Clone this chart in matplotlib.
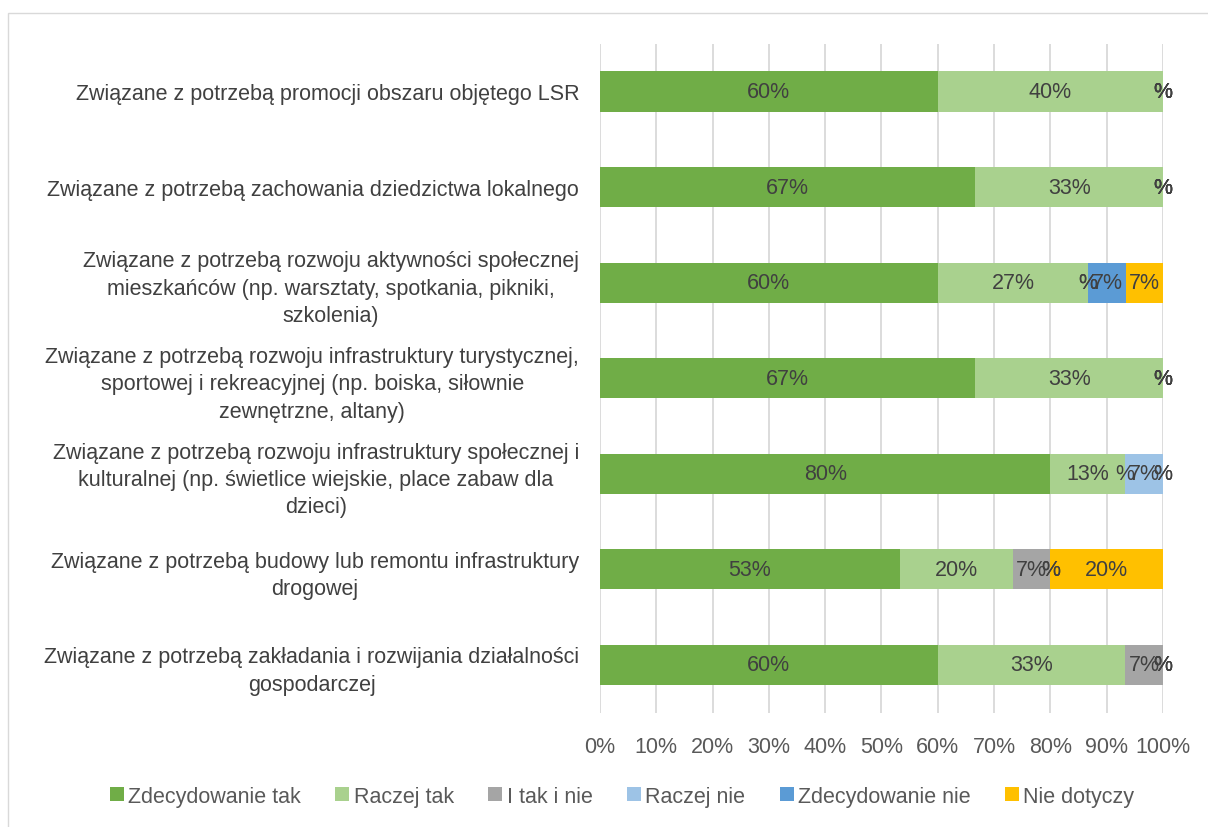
import numpy as np
import matplotlib.pyplot as plt
import matplotlib

matplotlib.rcParams['font.family'] = ['Liberation Sans', 'DejaVu Sans']

categories = [
    'Związane z potrzebą promocji obszaru objętego LSR',
    'Związane z potrzebą zachowania dziedzictwa lokalnego',
    'Związane z potrzebą rozwoju aktywności społecznej\nmieszkańców (np. warsztaty, spotkania, pikniki,\nszkolenia)',
    'Związane z potrzebą rozwoju infrastruktury turystycznej,\nsportowej i rekreacyjnej (np. boiska, siłownie\nzewnętrzne, altany)',
    'Związane z potrzebą rozwoju infrastruktury społecznej i\nkulturalnej (np. świetlice wiejskie, place zabaw dla\ndzieci)',
    'Związane z potrzebą budowy lub remontu infrastruktury\ndrogowej',
    'Związane z potrzebą zakładania i rozwijania działalności\ngospodarczej',
]
series_names = ['Zdecydowanie tak', 'Raczej tak', 'I tak i nie', 'Raczej nie',
                'Zdecydowanie nie', 'Nie dotyczy']
colors = ['#70AD47', '#A9D18E', '#A5A5A5', '#9DC3E6', '#5B9BD5', '#FFC000']

# odsetki (%), kolejność kategorii od góry
zdecydowanie_tak = [60, 66.7, 60, 66.7, 80, 53.3, 60]
raczej_tak = [40, 33.3, 26.7, 33.3, 13.3, 20, 33.3]
i_tak_i_nie = [0, 0, 0, 0, 0, 6.7, 6.7]
raczej_nie = [0, 0, 0, 0, 6.7, 0, 0]
zdecydowanie_nie = [0, 0, 6.7, 0, 0, 0, 0]
nie_dotyczy = [0, 0, 6.7, 0, 0, 20, 0]

data = np.array([zdecydowanie_tak, raczej_tak, i_tak_i_nie, raczej_nie,
                 zdecydowanie_nie, nie_dotyczy]) / 100.0

FS = 15.5

fig = plt.figure(figsize=(12.08, 8.28), dpi=100, facecolor='white')
ax = fig.add_axes([0.4967, 0.138, 0.466, 0.808])

y = np.arange(len(categories))
left = np.zeros(len(categories))
for i, name in enumerate(series_names):
    vals = data[i]
    ax.barh(y, vals, left=left, height=0.42, color=colors[i], label=name, zorder=3)
    for j, v in enumerate(vals):
        # etykiety zerowe w formacie "#%" -> sam "%"
        txt = '%' if v == 0 else '%d%%' % round(v * 100)
        ax.text(min(left[j] + v / 2, 1.0), y[j], txt, ha='center', va='center',
                fontsize=FS, color='#404040', zorder=4)
    left = left + vals

ax.set_xlim(0, 1)
ax.set_ylim(len(categories) - 0.5, -0.5)
ax.set_xticks(np.arange(0, 1.01, 0.1))
ax.set_xticklabels(['%d%%' % t for t in range(0, 101, 10)], fontsize=FS, color='#595959')
ax.set_yticks(y)
ax.set_yticklabels(categories, fontsize=FS, color='#404040', multialignment='center',
                   linespacing=1.4)
ax.tick_params(axis='both', length=0)
ax.tick_params(axis='x', pad=17)
ax.tick_params(axis='y', pad=15)
ax.grid(axis='x', color='#D9D9D9', linewidth=1.3, zorder=0)
for s in ax.spines.values():
    s.set_visible(False)

legend = fig.legend(loc='center', bbox_to_anchor=(0.515, 0.037), ncol=6, frameon=False,
                    fontsize=FS, handlelength=0.65, handleheight=0.65,
                    handletextpad=0.2, columnspacing=1.6)
for t in legend.get_texts():
    t.set_color('#595959')

fig.patches.append(plt.Rectangle((0.007, -0.01), 1.2, 0.993, transform=fig.transFigure,
                                 fill=False, edgecolor='#D9D9D9', linewidth=1))
plt.savefig('out.png', dpi=100, facecolor='white')
